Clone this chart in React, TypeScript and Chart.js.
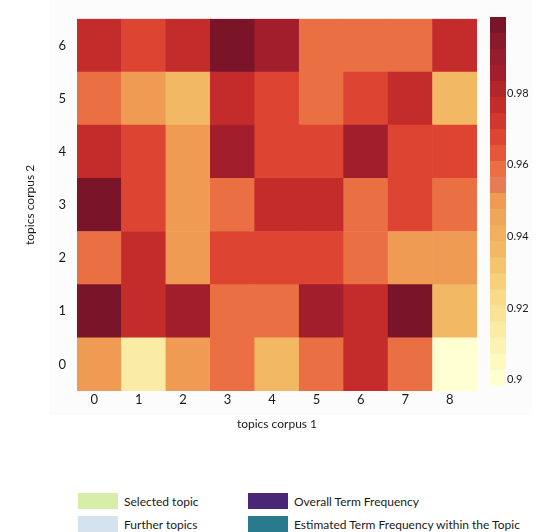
import React, { useEffect, useRef } from "react";
import { Chart, registerables } from "chart.js";
Chart.register(...registerables);

const FONT = "Lato, 'DejaVu Sans', sans-serif";
const TEXT = "#1a1a1a";

// topics corpus 1 (x) labels
const X_LABELS = ["0", "1", "2", "3", "4", "5", "6", "7", "8"];
// topics corpus 2 (y) values, bottom to top
const Y_VALUES = [0, 1, 2, 3, 4, 5, 6];

// similarity per cell, one array per topic of corpus 2 (columns = topics corpus 1)
const ROW_0 = [0.948, 0.914, 0.948, 0.959, 0.937, 0.959, 0.977, 0.959, 0.901];
const ROW_1 = [0.998, 0.977, 0.986, 0.959, 0.959, 0.986, 0.977, 0.998, 0.937];
const ROW_2 = [0.959, 0.977, 0.948, 0.968, 0.968, 0.968, 0.959, 0.948, 0.948];
const ROW_3 = [0.998, 0.968, 0.948, 0.959, 0.977, 0.977, 0.959, 0.968, 0.959];
const ROW_4 = [0.977, 0.968, 0.948, 0.986, 0.968, 0.968, 0.986, 0.968, 0.968];
const ROW_5 = [0.959, 0.948, 0.937, 0.977, 0.968, 0.959, 0.968, 0.977, 0.937];
const ROW_6 = [0.977, 0.968, 0.977, 0.998, 0.986, 0.959, 0.959, 0.959, 0.977];
const ROWS = [ROW_0, ROW_1, ROW_2, ROW_3, ROW_4, ROW_5, ROW_6];

// colour scale (quantized YlOrRd-like), low to high
const COLOR_MIN = 0.8983;
const COLOR_MAX = 1.0012;
const BAND_COLORS = [
  "#ffffd2", "#fef8c1", "#fcf2b3", "#fbeca5", "#f9e396", "#f8da88",
  "#f6d07b", "#f4c46e", "#f3b864", "#f1b05e", "#f0a659", "#ef9b54",
  "#e67c57", "#ea7044", "#e4573a", "#dd4532", "#d0372f", "#c42c2c",
  "#b3252d", "#a31e2c", "#961d2c", "#891a2b", "#7a1429",
];
const COLORBAR_TICKS = [0.9, 0.92, 0.94, 0.96, 0.98];

const LEGEND_LABELS = ["Selected topic", "Further topics", "Overall Term Frequency", "Estimated Term Frequency within the Topic"];
const LEGEND_COLORS = ["#d7eeab", "#d5e3ee", "#4a2776", "#287a8c"];

const bandEdge = (i: number) => COLOR_MIN + (i * (COLOR_MAX - COLOR_MIN)) / BAND_COLORS.length;
const colorFor = (v: number) => {
  const n = BAND_COLORS.length;
  let idx = Math.floor(((v - COLOR_MIN) / (COLOR_MAX - COLOR_MIN)) * n);
  idx = Math.max(0, Math.min(n - 1, idx));
  return BAND_COLORS[idx];
};

function Heatmap() {
  const ref = useRef<HTMLCanvasElement | null>(null);
  useEffect(() => {
    const chart = new Chart(ref.current!, {
      type: "bar",
      data: {
        labels: X_LABELS,
        datasets: ROWS.map((row, r) => ({
          data: row.map(() => [Y_VALUES[r] - 0.5, Y_VALUES[r] + 0.5]),
          backgroundColor: row.map(colorFor),
          borderWidth: 0,
          grouped: false,
          barPercentage: 1,
          categoryPercentage: 1,
        })) as any,
      },
      options: {
        animation: false,
        responsive: false,
        maintainAspectRatio: false,
        events: [],
        layout: { padding: { left: 19, top: 13, right: 3, bottom: 5 } },
        plugins: { legend: { display: false }, tooltip: { enabled: false } },
        scales: {
          x: {
            grid: { display: false, drawTicks: false },
            border: { display: false },
            ticks: { padding: 1, labelOffset: -5, color: TEXT, maxRotation: 0, font: { family: FONT, size: 13 } },
            title: { display: true, text: "topics corpus 1", color: TEXT, font: { family: FONT, size: 12 }, padding: { top: 4, bottom: 4 } },
            afterFit: (s: any) => { s.height = 44; },
          },
          y: {
            type: "linear",
            min: -0.5,
            max: 6.5,
            afterBuildTicks: (s: any) => { s.ticks = Y_VALUES.map((v) => ({ value: v })); },
            grid: { display: false, drawTicks: false },
            border: { display: false },
            ticks: { padding: 11, color: TEXT, font: { family: FONT, size: 13 } },
            title: { display: true, text: "topics corpus 2", color: TEXT, font: { family: FONT, size: 12 }, padding: { top: 4, bottom: 4 } },
            afterFit: (s: any) => { s.width = 58; },
          },
        },
      } as any,
    });
    return () => chart.destroy();
  }, []);
  return <canvas ref={ref} width={480} height={440} style={{ position: "absolute", left: 0, top: 0, width: 480, height: 440 }} />;
}

function ColorBar() {
  const ref = useRef<HTMLCanvasElement | null>(null);
  useEffect(() => {
    const chart = new Chart(ref.current!, {
      type: "bar",
      data: {
        labels: [""],
        datasets: BAND_COLORS.map((c, i) => ({
          data: [[bandEdge(i), bandEdge(i + 1)]],
          backgroundColor: c,
          borderWidth: 0,
          grouped: false,
          barPercentage: 1,
          categoryPercentage: 1,
        })) as any,
      },
      options: {
        animation: false,
        responsive: false,
        maintainAspectRatio: false,
        events: [],
        layout: { padding: { left: 10, top: 17, right: 0, bottom: 14 } },
        plugins: { legend: { display: false }, tooltip: { enabled: false } },
        scales: {
          x: { display: false },
          y: {
            type: "linear",
            position: "right",
            min: COLOR_MIN,
            max: COLOR_MAX,
            afterBuildTicks: (s: any) => { s.ticks = COLORBAR_TICKS.map((v) => ({ value: v })); },
            grid: { display: false, drawTicks: false },
            border: { display: false },
            ticks: {
              padding: 1,
              color: TEXT,
              font: { family: FONT, size: 11 },
              callback: (v: any) => String(Number(Number(v).toFixed(2))),
            },
            afterFit: (s: any) => { s.width = 44; },
          },
        },
      } as any,
    });
    return () => chart.destroy();
  }, []);
  return <canvas ref={ref} width={70} height={400} style={{ position: "absolute", left: 480, top: 0, width: 70, height: 400 }} />;
}

function Legend() {
  const pos = [
    { left: 78, top: 493 },
    { left: 78, top: 516 },
    { left: 248, top: 493 },
    { left: 248, top: 516 },
  ];
  return (
    <>
      {LEGEND_LABELS.map((label, i) => (
        <div key={label} style={{ position: "absolute", left: pos[i].left, top: pos[i].top, display: "flex", alignItems: "center", height: 16 }}>
          <div style={{ width: 40, height: 16, background: LEGEND_COLORS[i] }} />
          <span style={{ marginLeft: 6, fontFamily: FONT, fontSize: 12, color: TEXT, whiteSpace: "nowrap" }}>{label}</span>
        </div>
      ))}
    </>
  );
}

export default function App() {
  return (
    <div style={{ position: "absolute", left: 0, top: 0, width: 550, height: 532, background: "#ffffff", overflow: "hidden" }}>
      <div style={{ position: "absolute", left: 49, top: 0, width: 483, height: 415, background: "#fcfcfc" }} />
      <Heatmap />
      <ColorBar />
      <Legend />
    </div>
  );
}
